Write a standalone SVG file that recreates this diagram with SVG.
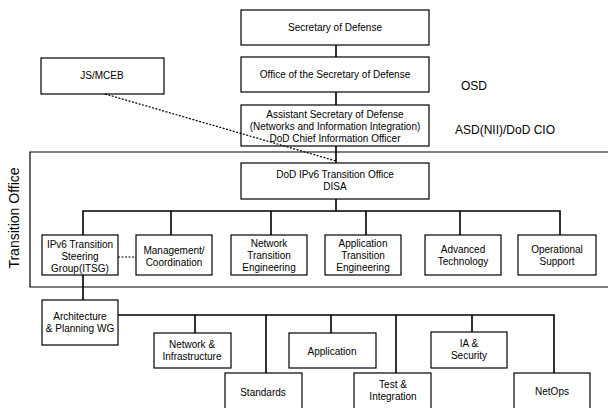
<svg xmlns="http://www.w3.org/2000/svg" width="608" height="408" viewBox="0 0 608 408">
<style>
.box{fill:#fff;stroke:#000;stroke-width:1.2}
.t{font-family:"Liberation Sans",Arial,sans-serif;font-size:10px;fill:#000;text-anchor:middle}
.lbl{font-family:"Liberation Sans",Arial,sans-serif;font-size:12px;fill:#000}
.c{fill:none;stroke:#000;stroke-width:1.6}
.d{fill:none;stroke:#000;stroke-width:1.2;stroke-dasharray:2 1.5}
</style>
<rect width="608" height="408" fill="#fff"/>
<g id="frame">
<path d="M608 152 H30 V287 H608" fill="none" stroke="#000" stroke-width="1.2"/>
<text class="lbl" transform="translate(19 218) rotate(-90)" text-anchor="middle" style="font-size:14px">Transition Office</text>
</g>
<text class="lbl" x="461" y="90">OSD</text>
<text class="lbl" x="455" y="134">ASD(NII)/DoD CIO</text>
<g id="secdef"><rect class="box" x="241" y="10" width="188" height="35"/><text class="t" x="335" y="31">Secretary of Defense</text></g>
<g id="osd"><rect class="box" x="241" y="57" width="188" height="35"/><text class="t" x="335" y="78">Office of the Secretary of Defense</text></g>
<g id="asd"><rect class="box" x="241" y="105" width="188" height="41"/><text class="t" x="335" y="118">Assistant Secretary of Defense</text><text class="t" x="335" y="130">(Networks and Information Integration)</text><text class="t" x="335" y="142">DoD Chief Information Officer</text></g>
<g id="jsmceb"><rect class="box" x="41" y="58" width="123" height="36"/><text class="t" x="102" y="79">JS/MCEB</text></g>
<g id="disa"><rect class="box" x="241" y="163" width="188" height="36"/><text class="t" x="335" y="178">DoD IPv6 Transition Office</text><text class="t" x="335" y="190">DISA</text></g>
<g id="itsg"><rect class="box" x="42" y="235" width="76" height="40"/><text class="t" x="80" y="248">IPv6 Transition</text><text class="t" x="80" y="260">Steering</text><text class="t" x="80" y="272">Group(ITSG)</text></g>
<g id="mgmt"><rect class="box" x="136" y="235" width="76" height="40"/><text class="t" x="174" y="254">Management/</text><text class="t" x="174" y="266">Coordination</text></g>
<g id="nte"><rect class="box" x="231" y="235" width="76" height="40"/><text class="t" x="269" y="247">Network</text><text class="t" x="269" y="259">Transition</text><text class="t" x="269" y="271">Engineering</text></g>
<g id="ate"><rect class="box" x="325" y="235" width="76" height="40"/><text class="t" x="363" y="247">Application</text><text class="t" x="363" y="259">Transition</text><text class="t" x="363" y="271">Engineering</text></g>
<g id="adv"><rect class="box" x="425" y="235" width="76" height="40"/><text class="t" x="463" y="253">Advanced</text><text class="t" x="463" y="265">Technology</text></g>
<g id="ops"><rect class="box" x="518" y="235" width="78" height="40"/><text class="t" x="557" y="253">Operational</text><text class="t" x="557" y="265">Support</text></g>
<g id="arch"><rect class="box" x="42" y="300" width="76" height="45"/><text class="t" x="80" y="320">Architecture</text><text class="t" x="80" y="332">&amp; Planning WG</text></g>
<g id="netinf"><rect class="box" x="154" y="333" width="77" height="35"/><text class="t" x="192" y="348">Network &amp;</text><text class="t" x="192" y="360">Infrastructure</text></g>
<g id="std"><rect class="box" x="225" y="373" width="77" height="40"/><text class="t" x="263" y="396">Standards</text></g>
<g id="app"><rect class="box" x="289" y="333" width="87" height="35"/><text class="t" x="332" y="355">Application</text></g>
<g id="test"><rect class="box" x="354" y="373" width="77" height="40"/><text class="t" x="393" y="388">Test &amp;</text><text class="t" x="393" y="400">Integration</text></g>
<g id="ia"><rect class="box" x="431" y="332" width="76" height="36"/><text class="t" x="469" y="347">IA &amp;</text><text class="t" x="469" y="359">Security</text></g>
<g id="netops"><rect class="box" x="514" y="373" width="76" height="40"/><text class="t" x="552" y="395">NetOps</text></g>
<g id="connectors">
<path class="c" d="M336 45 V57 M336 92 V105 M336 146 V163 M336 199 V211"/>
<path class="c" d="M83 235 V211 H560 V235 M171 211 V235 M271 211 V235 M366 211 V235 M460 211 V235"/>
<path class="c" d="M83 275 V300"/>
<path class="c" d="M118 315 H554 V373 M195 315 V333 M266 315 V373 M331 315 V333 M396 315 V373 M472 315 V332"/>
<path class="d" d="M105 94 L336 161"/>
<path class="d" d="M118 257 H136"/>
</g>
</svg>
